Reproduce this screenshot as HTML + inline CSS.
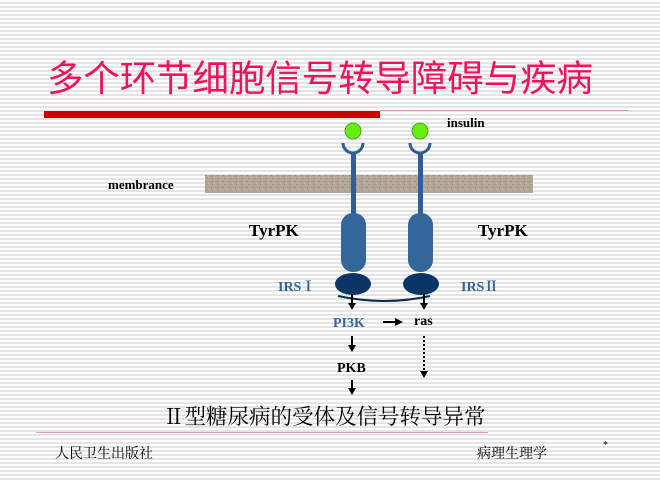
<!DOCTYPE html>
<html><head><meta charset="utf-8"><style>
html,body{margin:0;padding:0}
body{width:660px;height:480px;position:relative;overflow:hidden;
background:repeating-linear-gradient(to bottom,#fff 0,#fff 2px,#e4e4e4 2px,#e4e4e4 4px);
font-family:"Liberation Serif","Noto Serif CJK SC",serif}
.t{position:absolute;white-space:nowrap}
</style></head><body>
<div class="t" style="left:47px;top:57px;font-family:'Liberation Sans','Noto Sans CJK SC',sans-serif;font-size:36.4px;color:#f0115f;line-height:44px">多个环节细胞信号转导障碍与疾病</div>
<div style="position:absolute;left:44px;top:111px;width:336px;height:7px;background:#cc0000"></div>
<div style="position:absolute;left:380px;top:110px;width:248px;height:1px;background:#e0a0a8"></div>
<svg width="660" height="480" style="position:absolute;left:0;top:0">
<defs><pattern id="n" width="6" height="6" patternUnits="userSpaceOnUse"><rect width="6" height="6" fill="#b3a698"/><rect x="1" y="1" width="1" height="1" fill="#8a7d70"/><rect x="4" y="3" width="1" height="1" fill="#d0c6ba"/><rect x="2" y="4" width="1" height="1" fill="#9a8d80"/></pattern></defs>
<rect x="205" y="175" width="328" height="18" fill="url(#n)"/>
<circle cx="353" cy="131" r="8" fill="#66ee11" stroke="#3a9a10" stroke-width="0.8"/>
<circle cx="420" cy="131" r="8" fill="#66ee11" stroke="#3a9a10" stroke-width="0.8"/>
<g fill="none" stroke="#2f5f95" stroke-width="3">
<path d="M343 143 A10 10 0 0 0 363 143"/><path d="M410 143 A10 10 0 0 0 430 143"/>
</g>
<rect x="351" y="153" width="5" height="62" fill="#2f5f95"/>
<rect x="418" y="153" width="5" height="62" fill="#2f5f95"/>
<rect x="341" y="213" width="25" height="59" rx="12" fill="#336699"/>
<rect x="408" y="213" width="25" height="59" rx="12" fill="#336699"/>
<path d="M338 296 Q385 306 430 296" fill="none" stroke="#0a2a50" stroke-width="2"/>
<ellipse cx="353" cy="284" rx="18" ry="11" fill="#0a3564"/>
<ellipse cx="421" cy="284" rx="18" ry="11" fill="#0a3564"/>
<g stroke="#000" stroke-width="2" fill="#000">
<line x1="352" y1="294" x2="352" y2="304"/><path d="M348 303 L356 303 L352 310Z" stroke="none"/>
<line x1="424" y1="294" x2="424" y2="304"/><path d="M420 303 L428 303 L424 310Z" stroke="none"/>
<line x1="383" y1="322" x2="396" y2="322"/><path d="M395 318 L403 322 L395 326Z" stroke="none"/>
<line x1="352" y1="336" x2="352" y2="346"/><path d="M348 345 L356 345 L352 352Z" stroke="none"/>
<line x1="424" y1="336" x2="424" y2="372" stroke-dasharray="2,2"/><path d="M420 371 L428 371 L424 378Z" stroke="none"/>
<line x1="352" y1="380" x2="352" y2="389"/><path d="M348 388 L356 388 L352 395Z" stroke="none"/>
</g>
</svg>
<div class="t" style="left:447px;top:115px;font-size:13px;font-weight:bold">insulin</div>
<div class="t" style="left:108px;top:177px;font-size:13px;font-weight:bold">membrance</div>
<div class="t" style="left:249px;top:221px;font-size:17px;font-weight:bold">TyrPK</div>
<div class="t" style="left:478px;top:221px;font-size:17px;font-weight:bold">TyrPK</div>
<div class="t" style="left:278px;top:276px;font-size:14px;font-weight:bold;color:#336699">IRSⅠ</div>
<div class="t" style="left:461px;top:276px;font-size:14px;font-weight:bold;color:#336699">IRSⅡ</div>
<div class="t" style="left:333px;top:316px;font-size:14px;font-weight:bold;color:#336699">PI3K</div>
<div class="t" style="left:414px;top:314px;font-size:14px;font-weight:bold">ras</div>
<div class="t" style="left:337px;top:361px;font-size:14px;font-weight:bold">PKB</div>
<div class="t" style="left:163px;top:400px;font-size:21.5px">Ⅱ型糖尿病的受体及信号转导异常</div>
<div style="position:absolute;left:36px;top:432px;width:452px;height:1px;background:#e0a0a8"></div>
<div class="t" style="left:55px;top:443px;font-size:14px">人民卫生出版社</div>
<div class="t" style="left:477px;top:443px;font-size:14px">病理生理学</div>
<div class="t" style="left:603px;top:440px;font-size:10px">*</div>
</body></html>
